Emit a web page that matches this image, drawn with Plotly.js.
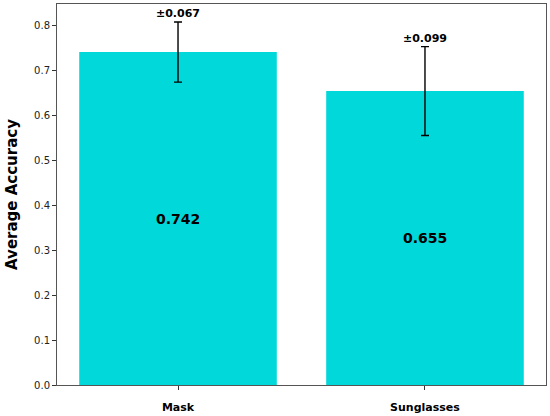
<!DOCTYPE html>
<html>
<head>
<meta charset="utf-8">
<script src="https://cdn.plot.ly/plotly-3.0.1.min.js"></script>
<style>
  html, body { margin: 0; padding: 0; background: #fff; }
  #chart { width: 550px; height: 416px; }
</style>
</head>
<body>
<div id="chart"></div>
<script>
/* -------------------- DATA -------------------- */

const categories = ['Mask', 'Sunglasses'];
const accuracy = [0.742, 0.655];
const errors = [0.067, 0.099];
const valueLabels = ['0.742', '0.655'];
const errorLabels = ['±0.067', '±0.099'];
const yTicks = [0, 0.1, 0.2, 0.3, 0.4, 0.5, 0.6, 0.7, 0.8];

/* -------------------- PLOT -------------------- */

const FONT = 'DejaVu Sans, sans-serif';
const BAR_COLOR = '#00d8d9';

const bars = {
  type: 'bar',
  x: [0, 1],
  y: accuracy,
  width: 0.8,
  marker: { color: BAR_COLOR, line: { width: 0 } },
  error_y: { type: 'data', array: errors, visible: true, color: '#000', thickness: 1.4, width: 4 },
  hoverinfo: 'skip'
};

const annotations = [];
accuracy.forEach((v, i) => {
  // value in the middle of the bar
  annotations.push({
    x: i, y: v / 2, xref: 'x', yref: 'y',
    text: '<b>' + valueLabels[i] + '</b>', showarrow: false,
    font: { family: FONT, size: 14, color: '#000' }
  });
  // error size above the whisker
  annotations.push({
    x: i, y: v + errors[i], xref: 'x', yref: 'y',
    text: '<b>' + errorLabels[i] + '</b>', showarrow: false,
    yanchor: 'bottom', yshift: 0,
    font: { family: FONT, size: 11, color: '#000' }
  });
});

const layout = {
  width: 550, height: 416,
  margin: { l: 57, r: 4, t: 4, b: 31 },
  paper_bgcolor: '#fff', plot_bgcolor: '#fff',
  showlegend: false,
  font: { family: FONT, color: '#000' },
  xaxis: {
    range: [-0.49, 1.49],
    tickvals: [0, 1],
    ticktext: categories.map(c => '<b>' + c + '</b>'),
    tickfont: { family: FONT, size: 11, color: '#000' },
    ticks: 'outside', ticklen: 4, tickcolor: '#333',
    ticklabelstandoff: 8,
    showline: true, mirror: true, linecolor: '#555', linewidth: 1,
    showgrid: false, zeroline: false
  },
  yaxis: {
    range: [0, 0.849],
    tickvals: yTicks,
    ticktext: yTicks.map(t => t.toFixed(1)),
    tickfont: { family: FONT, size: 10, color: '#222' },
    ticks: 'outside', ticklen: 4, tickcolor: '#333',
    showline: true, mirror: true, linecolor: '#555', linewidth: 1,
    showgrid: false, zeroline: false,
    title: { text: '<b>Average Accuracy</b>', font: { family: FONT, size: 15, color: '#000' }, standoff: 12 }
  },
  annotations: annotations
};

Plotly.newPlot('chart', [bars], layout, { displayModeBar: false, staticPlot: true });
</script>
</body>
</html>
